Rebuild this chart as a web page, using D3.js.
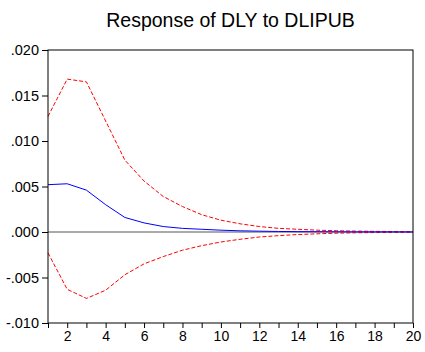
<!DOCTYPE html>
<html><head><meta charset="utf-8">
<script src="https://cdn.jsdelivr.net/npm/d3@7"></script>
<style>body{margin:0;background:#fff}svg{display:block}text{font-family:"Liberation Sans",Arial,sans-serif}</style>
</head><body><svg id="c" width="425" height="352"></svg>
<script>
const periods = d3.range(1, 21);
const response = [0.0052,0.0053,0.0046,0.0030,0.0016,0.0010,0.0006,0.0004,0.0003,0.0002,0.00013,0.00009,0.00006,0.00004,0.00003,0.00002,0.00001,0.00001,0.00001,0.000005];
const upper = [0.0127,0.0168,0.0165,0.0122,0.0079,0.0056,0.0039,0.0028,0.0019,0.0013,0.0009,0.0006,0.0004,0.0003,0.0002,0.00014,0.0001,0.00007,0.00005,0.00003];
const lower = [-0.0023,-0.0063,-0.0073,-0.0064,-0.0047,-0.0035,-0.0027,-0.0020,-0.0015,-0.0011,-0.0008,-0.00055,-0.0004,-0.00028,-0.0002,-0.00013,-0.00009,-0.00006,-0.00004,-0.00002];
const yTicks = [-0.010,-0.005,0.000,0.005,0.010,0.015,0.020];
const xLabels = [2,4,6,8,10,12,14,16,18,20];
const title = "Response of DLY to DLIPUB";

const svg = d3.select("#c");
const L=48,R=413,T=50,B=323;
const x = d3.scaleLinear().domain([1,20]).range([L,R]);
const y = d3.scaleLinear().domain([-0.010,0.020]).range([B,T]);

svg.append("text").attr("x",(L+R)/2).attr("y",27).attr("text-anchor","middle")
  .attr("font-size",19.5).attr("fill","#000").text(title);

const fmt = v => { let s = Math.abs(v).toFixed(3).replace(/^0/,""); return (v<-1e-9?"-":"")+s; };
const yAxis = svg.append("g").attr("transform",`translate(${L},0)`)
  .call(d3.axisLeft(y).tickValues(yTicks).tickFormat(fmt).tickSize(6).tickPadding(3));
yAxis.select(".domain").remove();
yAxis.selectAll("text").attr("font-size",14.5).attr("font-family","Liberation Sans, Arial, sans-serif").attr("fill","#000");
yAxis.selectAll("line").attr("stroke","#000");

const xAxis = svg.append("g").attr("transform",`translate(0,${B})`)
  .call(d3.axisBottom(x).tickValues(periods).tickFormat(d => xLabels.includes(d)?d:"").tickSize(5).tickPadding(3));
xAxis.select(".domain").remove();
xAxis.selectAll("text").attr("font-size",14).attr("font-family","Liberation Sans, Arial, sans-serif").attr("fill","#000");
xAxis.selectAll("line").attr("stroke","#000");

// zero line
svg.append("line").attr("x1",L).attr("x2",R).attr("y1",y(0)).attr("y2",y(0)).attr("stroke","#555").attr("stroke-width",1);

const line = d3.line().x((d,i)=>x(periods[i])).y(d=>y(d));
svg.append("path").datum(upper).attr("d",line).attr("fill","none").attr("stroke","#ff0000").attr("stroke-width",1).attr("stroke-dasharray","4,2");
svg.append("path").datum(lower).attr("d",line).attr("fill","none").attr("stroke","#ff0000").attr("stroke-width",1).attr("stroke-dasharray","4,2");
svg.append("path").datum(response).attr("d",line).attr("fill","none").attr("stroke","#0000ff").attr("stroke-width",1);

svg.append("rect").attr("x",L).attr("y",T).attr("width",R-L).attr("height",B-T).attr("fill","none").attr("stroke","#000").attr("stroke-width",1);
</script></body></html>
